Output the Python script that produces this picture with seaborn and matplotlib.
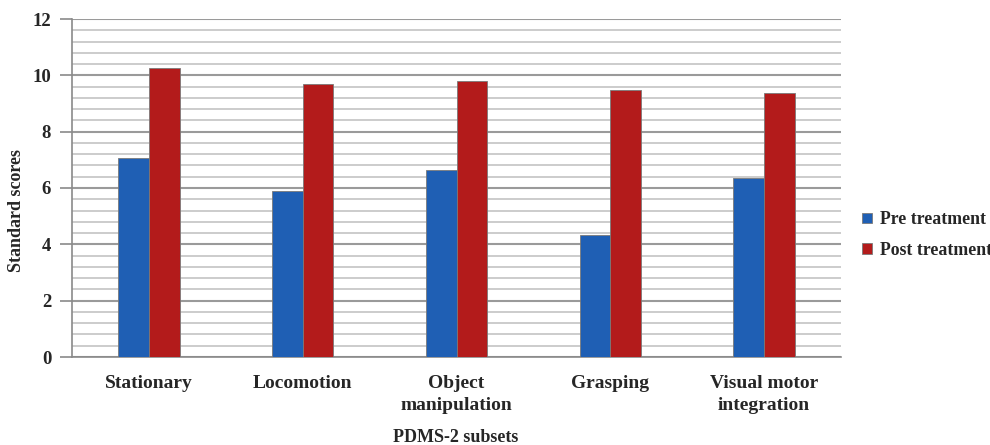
import numpy as np
import pandas as pd
import seaborn as sns
import matplotlib.pyplot as plt
from matplotlib.ticker import MultipleLocator


categories = ["Stationary", "Locomotion", "Object\nmanipulation", "Grasping", "Visual motor\nintegration"]
pre_treatment = [7.06, 5.90, 6.64, 4.33, 6.34]
post_treatment = [10.25, 9.68, 9.80, 9.48, 9.38]
series_names = ["Pre treatment", "Post treatment"]

df = pd.DataFrame({
    "subset": categories * 2,
    "score": pre_treatment + post_treatment,
    "group": [series_names[0]] * len(categories) + [series_names[1]] * len(categories),
})

sns.set_theme(style="white")
plt.rcParams['font.family'] = ['Liberation Serif', 'DejaVu Serif']
plt.rcParams['font.weight'] = 'bold'

fig = plt.figure(figsize=(9.9, 4.45), dpi=100)
ax = fig.add_axes([72 / 990, 1 - 357 / 445, (841 - 72) / 990, (357 - 19) / 445])

palette = {series_names[0]: "#1f5fb4", series_names[1]: "#b31b1b"}
sns.barplot(data=df, x="subset", y="score", hue="group", palette=palette,
            width=0.4, saturation=1, ax=ax, zorder=3, legend=True,
            linewidth=0.6, edgecolor="#7a7a7a")

ax.set_ylim(0, 12)
ax.set_xlim(-0.5, 4.5)
ax.yaxis.set_major_locator(MultipleLocator(2))
ax.yaxis.set_minor_locator(MultipleLocator(0.4))
ax.grid(which="minor", axis="y", color="#c8c8c8", lw=1.3, zorder=0)
ax.grid(which="major", axis="y", color="#9a9a9a", lw=1.5, zorder=0)
ax.set_axisbelow(True)

sns.despine(ax=ax, top=True, right=True)
ax.spines["left"].set_color("#8a8a8a")
ax.spines["bottom"].set_color("#8a8a8a")
ax.spines["left"].set_linewidth(1.2)
ax.spines["bottom"].set_linewidth(1.2)
ax.tick_params(axis="y", which="major", length=9, width=1.2, color="#8a8a8a",
               direction="out", left=True, labelsize=13.5, pad=6)
ax.tick_params(axis="y", which="minor", length=0)
ax.tick_params(axis="x", length=0, labelsize=14, pad=13)
for lab in ax.get_yticklabels() + ax.get_xticklabels():
    lab.set_fontweight("bold")
for lab in ax.get_xticklabels():
    lab.set_linespacing(1.4)

ax.set_xlabel("PDMS-2 subsets", fontsize=13, fontweight="bold", va="center")
ax.xaxis.set_label_coords(456 / 990, 1 - 437 / 445, transform=fig.transFigure)
ax.set_ylabel("Standard scores", fontsize=13, fontweight="bold", va="center")
ax.yaxis.set_label_coords(17 / 990, 1 - 210 / 445, transform=fig.transFigure)

handles, labels = ax.get_legend_handles_labels()
ax.legend(handles, labels, loc="center left", bbox_to_anchor=(862 / 990, 1 - 235 / 445),
          bbox_transform=fig.transFigure, frameon=False,
          handlelength=0.55, handleheight=0.55, handletextpad=0.45, labelspacing=0.75,
          borderpad=0, borderaxespad=0, prop={"weight": "bold", "size": 12.8})

fig.savefig("out.png", dpi=100)
plt.close(fig)
